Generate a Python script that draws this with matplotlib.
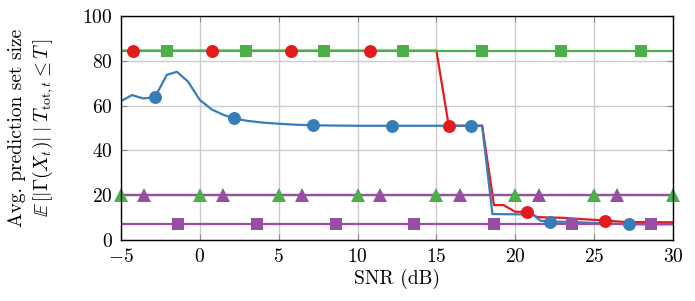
import matplotlib
matplotlib.use("Agg")
import matplotlib.pyplot as plt

plt.rcParams['font.family'] = 'serif'
plt.rcParams['font.serif'] = ['cmr10', 'DejaVu Serif']
plt.rcParams['mathtext.fontset'] = 'cm'
plt.rcParams['axes.formatter.use_mathtext'] = True

RED = '#e41a1c'
BLUE = '#377eb8'
GREEN = '#4daf4a'
PURPLE = '#984ea3'

# Blue (circles)
blue_x = [-5, -4.3, -3.6, -2.85, -2.1, -1.45, -0.75, 0, 0.75, 1.45, 2.15, 3.0, 4.0, 5.0, 6.0,
          7.15, 8.5, 10.0, 12.2, 14.0, 16.0, 17.2, 17.9, 18.55, 19.5, 21.1, 21.6, 22.2, 23.5,
          25.0, 27.2, 30.0]
blue_y = [62.0, 64.7, 63.2, 63.7, 73.7, 75.1, 70.7, 62.5, 58.3, 56.0, 54.3, 53.2, 52.4, 51.9, 51.5,
          51.2, 51.1, 51.0, 51.0, 51.0, 51.0, 51.0, 51.0, 11.6, 11.5, 11.4, 8.6, 8.2, 8.1,
          7.6, 7.0, 7.0]
blue_marks = [3, 10, 15, 18, 21, 27, 30]

# Red (circles)
red_x = [-5, -4.24, 0.78, 5.8, 10.8, 15.0, 15.78, 17.9, 18.65, 19.25, 20.0, 20.76, 21.4, 23.0,
         24.5, 25.7, 27.0, 30.0]
red_y = [84.5, 84.5, 84.5, 84.5, 84.5, 84.5, 51.0, 51.0, 15.6, 15.6, 12.6, 12.6, 10.2, 9.9,
         9.2, 8.7, 8.0, 7.9]
red_marks = [1, 2, 3, 4, 6, 11, 15]

# Green (squares)
gsq_x = [-5, -2.08, 2.9, 7.9, 12.9, 17.9, 22.9, 27.95, 30]
gsq_y = [84.5, 84.5, 84.5, 84.5, 84.5, 84.5, 84.5, 84.5, 84.5]
gsq_marks = [1, 2, 3, 4, 5, 6, 7]

# Green (triangles)
gtr_x = [-5, 0, 5, 10, 15, 20, 25, 30]
gtr_y = [20, 20, 20, 20, 20, 20, 20, 20]

# Purple (triangles)
ptr_x = [-5, -3.55, 1.45, 6.45, 11.45, 16.48, 21.5, 26.47, 30]
ptr_y = [20, 20, 20, 20, 20, 20, 20, 20, 20]
ptr_marks = [1, 2, 3, 4, 5, 6, 7]

# Purple (squares)
psq_x = [-5, -1.38, 3.62, 8.63, 13.6, 18.64, 23.6, 28.6, 30]
psq_y = [7.0, 7.0, 7.0, 7.0, 7.0, 7.0, 7.0, 7.0, 7.0]
psq_marks = [1, 2, 3, 4, 5, 6, 7]

xticks = [-5, 0, 5, 10, 15, 20, 25, 30]
yticks = [0, 20, 40, 60, 80, 100]

fig = plt.figure(figsize=(6.95, 3.01), dpi=100)
ax = fig.add_axes([121 / 695, 1 - 240 / 301, (673 - 121) / 695, (240 - 16) / 301])

lw = 1.6
ms_c = 9.3
ms_s = 9
ms_t = 10

def series(x, y, color, marker, marks, ms, lz):
    ax.plot(x, y, color=color, lw=lw, zorder=lz, solid_joinstyle='miter', clip_on=True)
    ax.plot([x[i] for i in marks], [y[i] for i in marks], linestyle='none', marker=marker,
            color=color, markersize=ms, markeredgewidth=0, zorder=lz + 10, clip_on=False)

series(red_x, red_y, RED, 'o', red_marks, ms_c, 2.0)
series(blue_x, blue_y, BLUE, 'o', blue_marks, ms_c, 2.1)
series(gsq_x, gsq_y, GREEN, 's', gsq_marks, ms_s, 2.2)
series(gtr_x, gtr_y, GREEN, '^', list(range(len(gtr_x))), ms_t, 2.3)
series(ptr_x, ptr_y, PURPLE, '^', ptr_marks, ms_t, 2.4)
series(psq_x, psq_y, PURPLE, 's', psq_marks, ms_s, 2.5)

ax.set_xlim(-5, 30)
ax.set_ylim(0, 100)
ax.set_xticks(xticks)
ax.set_yticks(yticks)
ax.set_xticklabels([f'${t}$' if t >= 0 else f'$-{abs(t)}$' for t in xticks])
ax.set_yticklabels([f'${t}$' for t in yticks])
ax.grid(True, color='#cccccc', lw=1.0, zorder=0)
ax.set_axisbelow(True)
ax.tick_params(direction='in', length=4, width=0.8, color='#888888', labelsize=14,
               top=True, right=True, pad=6)
for s in ax.spines.values():
    s.set_linewidth(1.0)
    s.set_zorder(30)

ax.set_xlabel('SNR (dB)', fontsize=14, labelpad=2)
yc = 1 - (16 + 240) / 2 / 301
fig.text(17 / 695, yc, 'Avg. prediction set size', rotation=90, fontsize=14,
         ha='center', va='center')
fig.text(43 / 695, yc,
         r'$\mathbb{E}\,[|\Gamma(X_t)|\;|\;T_{\mathrm{tot},t} \leq T\,]$', rotation=90,
         fontsize=14, ha='center', va='center')

fig.savefig('out.png', dpi=100)
